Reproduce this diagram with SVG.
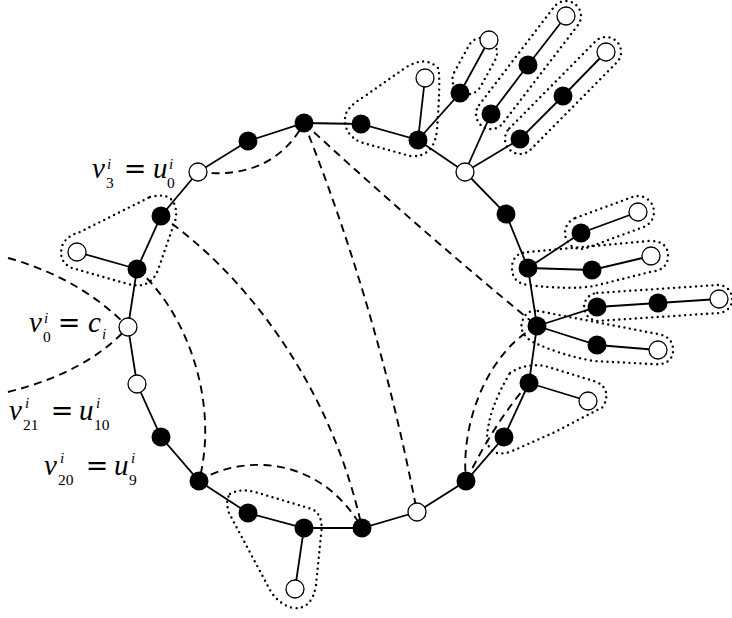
<svg xmlns="http://www.w3.org/2000/svg" width="732" height="618" viewBox="0 0 732 618">
<style>
.e{stroke:#000;stroke-width:1.8;fill:none}
.dash{stroke:#000;stroke-width:1.9;fill:none;stroke-dasharray:8 5.5}
.dot{stroke:#000;stroke-width:2.4;fill:none;stroke-dasharray:0 5.5;stroke-linecap:round}
.b{fill:#000}
.w{fill:#fff;stroke:#000;stroke-width:1.3}
.m{font-family:"Liberation Serif",serif;font-style:italic;font-size:29px;fill:#000}
.s{font-family:"Liberation Serif",serif;font-style:italic;font-size:15px;fill:#000}
.d{font-family:"Liberation Serif",serif;font-size:15.5px;fill:#000}
.eq{font-family:"DejaVu Serif",serif;font-size:27px;text-anchor:middle;fill:#000}
</style>
<rect width="732" height="618" fill="#fff"/>
<g id="groups">
<path class="dot" d="M 150,197 Q 178,190 176,218 L 158,270 Q 150,290 128,284 L 72,268 Q 58,262 62,246 Q 66,236 80,232 L 150,197 Z"/>
<path class="dot" d="M 345,118 Q 345,108 365,96 L 405,68 Q 425,55 438,68 Q 441,75 437,130 Q 434,158 410,156 L 360,142 Q 344,134 345,118 Z"/>
<rect class="dot" x="444.8" y="51.5" width="60.4" height="30" rx="15" transform="rotate(-61.3 474.5 66.5)"/>
<rect class="dot" x="451.8" y="50" width="153.4" height="30" rx="15" transform="rotate(-52.6 528.5 65)"/>
<rect class="dot" x="486.9" y="80.5" width="152.3" height="30" rx="15" transform="rotate(-45.3 563 95.5)"/>
<rect class="dot" x="563.15" y="206.5" width="92.7" height="32" rx="16" transform="rotate(-20.2 609.5 222.5)"/>
<path class="dot" d="M 528,252 L 648,241 Q 668,240 668,256 Q 668,270 650,272 L 594,286 Q 570,290 528,285 Q 512,283 512,268 Q 512,253 528,252 Z"/>
<rect class="dot" x="584" y="289" width="148.3" height="28" rx="14" transform="rotate(-3.75 658 303)"/>
<path class="dot" d="M 538,311 L 658,334 Q 674,337 673,352 Q 671,366 652,364 L 594,361 Q 560,355 533,342 Q 519,334 522,322 Q 526,309 538,311 Z"/>
<path class="dot" d="M 510,373 Q 525,363 545,366 L 597,382 Q 612,390 603,407 L 555,432 L 510,452 Q 488,458 487,438 Q 488,410 510,373 Z"/>
<path class="dot" d="M 230,494 Q 240,488 255,492 L 312,509 Q 324,515 321,535 L 316,585 Q 312,610 293,608 Q 278,604 270,590 L 229,513 Q 225,500 230,494 Z"/>
</g>
<g id="connectors">
<polyline class="e" points="198,172 248,141 304,123 361,124 418,140 465,172 506,214 528,268 537,326 529,383 504,437 466,481 417,512 362,528 304,528 248,513 199,481 161,437 137,384 128,327 137,269 161,216 198,172"/>
<line class="e" x1="137" y1="269" x2="77" y2="252"/>
<line class="e" x1="418" y1="140" x2="425" y2="78"/>
<polyline class="e" points="418,140 460,93 489,40"/>
<polyline class="e" points="465,172 491,114 528,65 566,16"/>
<polyline class="e" points="465,172 520,139 563,96 606,52"/>
<polyline class="e" points="528,268 581,233 638,212"/>
<polyline class="e" points="528,268 592,270 651,256"/>
<polyline class="e" points="537,326 597,307 658,303 719,299"/>
<polyline class="e" points="537,326 597,345 658,350"/>
<line class="e" x1="529" y1="383" x2="588" y2="401"/>
<line class="e" x1="304" y1="528" x2="295" y2="589"/>
<path class="dash" d="M 198,172 Q 272,181 304,123"/>
<path class="dash" d="M 304,123 Q 420,230 537,326"/>
<path class="dash" d="M 304,123 Q 378,309 417,512"/>
<path class="dash" d="M 161,216 C 240,270 330,380 362,528"/>
<path class="dash" d="M 137,269 C 185,310 220,400 199,481"/>
<path class="dash" d="M 199,481 C 238,456 318,452 362,528"/>
<path class="dash" d="M 8,258 Q 80,278 128,327"/>
<path class="dash" d="M 8,392 Q 88,372 128,327"/>
<path class="dash" d="M 537,326 C 490,350 460,420 466,481"/>
<path class="dash" d="M 529,383 Q 494,423 466,481"/>
</g>
<g id="nodes">
<g id="c0"><circle class="w" cx="198" cy="172" r="9"/></g>
<g id="c1"><circle class="b" cx="248" cy="141" r="9.5"/></g>
<g id="c2"><circle class="b" cx="304" cy="123" r="9.5"/></g>
<g id="c3"><circle class="b" cx="361" cy="124" r="9.5"/></g>
<g id="c4"><circle class="b" cx="418" cy="140" r="9.5"/></g>
<g id="c5"><circle class="w" cx="465" cy="172" r="9"/></g>
<g id="c6"><circle class="b" cx="506" cy="214" r="9.5"/></g>
<g id="c7"><circle class="b" cx="528" cy="268" r="9.5"/></g>
<g id="c8"><circle class="b" cx="537" cy="326" r="9.5"/></g>
<g id="c9"><circle class="b" cx="529" cy="383" r="9.5"/></g>
<g id="c10"><circle class="b" cx="504" cy="437" r="9.5"/></g>
<g id="c11"><circle class="b" cx="466" cy="481" r="9.5"/></g>
<g id="c12"><circle class="w" cx="417" cy="512" r="9"/></g>
<g id="c13"><circle class="b" cx="362" cy="528" r="9.5"/></g>
<g id="c14"><circle class="b" cx="304" cy="528" r="9.5"/></g>
<g id="c15"><circle class="b" cx="248" cy="513" r="9.5"/></g>
<g id="c16"><circle class="b" cx="199" cy="481" r="9.5"/></g>
<g id="c17"><circle class="b" cx="161" cy="437" r="9.5"/></g>
<g id="c18"><circle class="w" cx="137" cy="384" r="9"/></g>
<g id="c19"><circle class="w" cx="128" cy="327" r="9"/></g>
<g id="c20"><circle class="b" cx="137" cy="269" r="9.5"/></g>
<g id="c21"><circle class="b" cx="161" cy="216" r="9.5"/></g>
<g id="p1"><circle class="w" cx="77" cy="252" r="9"/></g>
<g id="p2"><circle class="w" cx="425" cy="78" r="9"/></g>
<g id="p3"><circle class="b" cx="460" cy="93" r="9.5"/></g>
<g id="p4"><circle class="w" cx="489" cy="40" r="9"/></g>
<g id="p5"><circle class="b" cx="491" cy="114" r="9.5"/></g>
<g id="p6"><circle class="b" cx="528" cy="65" r="9.5"/></g>
<g id="p7"><circle class="w" cx="566" cy="16" r="9"/></g>
<g id="p8"><circle class="b" cx="520" cy="139" r="9.5"/></g>
<g id="p9"><circle class="b" cx="563" cy="96" r="9.5"/></g>
<g id="p10"><circle class="w" cx="606" cy="52" r="9"/></g>
<g id="p11"><circle class="b" cx="581" cy="233" r="9.5"/></g>
<g id="p12"><circle class="w" cx="638" cy="212" r="9"/></g>
<g id="p13"><circle class="b" cx="592" cy="270" r="9.5"/></g>
<g id="p14"><circle class="w" cx="651" cy="256" r="9"/></g>
<g id="p15"><circle class="b" cx="597" cy="307" r="9.5"/></g>
<g id="p16"><circle class="b" cx="658" cy="303" r="9.5"/></g>
<g id="p17"><circle class="w" cx="719" cy="299" r="9"/></g>
<g id="p18"><circle class="b" cx="597" cy="345" r="9.5"/></g>
<g id="p19"><circle class="w" cx="658" cy="350" r="9"/></g>
<g id="p20"><circle class="w" cx="588" cy="401" r="9"/></g>
<g id="p21"><circle class="w" cx="295" cy="589" r="9"/></g>
</g>
<g id="labels">
<g id="lbl-v3">
<text class="m" x="92" y="178">v</text><text class="s" x="107" y="169">i</text><text class="d" x="106" y="188">3</text>
<text class="eq" x="135" y="178">=</text>
<text class="m" x="153" y="178">u</text><text class="s" x="169" y="169">i</text><text class="d" x="167" y="188">0</text>
</g>
<g id="lbl-v0">
<text class="m" x="29" y="332">v</text><text class="s" x="44" y="323">i</text><text class="d" x="43" y="342">0</text>
<text class="eq" x="69" y="332">=</text>
<text class="m" x="88" y="332">c</text><text class="s" x="102" y="339">i</text>
</g>
<g id="lbl-v21">
<text class="m" x="9" y="420">v</text><text class="s" x="25" y="408">i</text><text class="d" x="23" y="430">21</text>
<text class="eq" x="62" y="420">=</text>
<text class="m" x="79" y="420">u</text><text class="s" x="96" y="408">i</text><text class="d" x="94" y="430">10</text>
</g>
<g id="lbl-v20">
<text class="m" x="44" y="475">v</text><text class="s" x="60" y="463">i</text><text class="d" x="58" y="485">20</text>
<text class="eq" x="97" y="475">=</text>
<text class="m" x="114" y="475">u</text><text class="s" x="131" y="463">i</text><text class="d" x="129" y="485">9</text>
</g>
</g>
</svg>
